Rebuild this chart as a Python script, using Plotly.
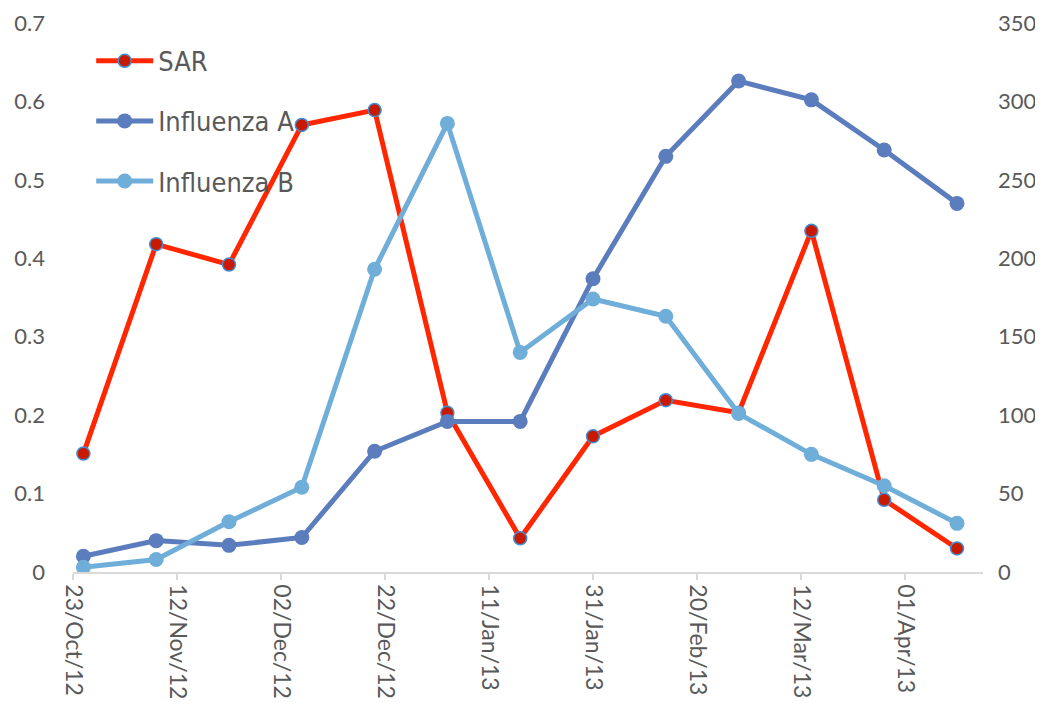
import plotly.graph_objects as go

# sampling dates (fortnightly)
dates = ["2012-10-25", "2012-11-08", "2012-11-22", "2012-12-06", "2012-12-20",
         "2013-01-03", "2013-01-17", "2013-01-31", "2013-02-14", "2013-02-28",
         "2013-03-14", "2013-03-28", "2013-04-11"]

sar = [0.151, 0.418, 0.392, 0.570, 0.589, 0.203, 0.043, 0.173, 0.219, 0.203,
       0.435, 0.092, 0.030]
flu_a = [10, 20, 17, 22, 77, 96, 96, 187, 265, 313, 301, 269, 235]
flu_b = [3, 8, 32, 54, 193, 286, 140, 174, 163, 101, 75, 55, 31]

X_FONT = dict(family="Lato, Liberation Sans, sans-serif", size=23, color="#595959")
Y_FONT = dict(family="Lato, Liberation Sans, sans-serif", size=22, color="#595959")
LEGEND_FONT = dict(family="DejaVu Sans Condensed, DejaVu Sans, sans-serif", size=27, color="#595959")

fig = go.Figure()
fig.add_trace(go.Scatter(
    x=dates, y=sar, name="SAR", mode="lines+markers", legendgroup="sar",
    line=dict(color="#FF2600", width=5),
    marker=dict(size=13, color="#C81A00", line=dict(color="#3D8FDB", width=1.5)),
))
fig.add_trace(go.Scatter(
    x=dates, y=flu_a, name="Influenza A", mode="lines+markers", legendgroup="a",
    yaxis="y2", line=dict(color="#5B7DBD", width=5),
    marker=dict(size=15, color="#5B7DBD"),
))
fig.add_trace(go.Scatter(
    x=dates, y=flu_b, name="Influenza B", mode="lines+markers", legendgroup="b",
    yaxis="y2", line=dict(color="#70AEDA", width=5),
    marker=dict(size=15, color="#70AEDA"),
))

# page body adds an 8px offset, so the figure is 8px smaller on each axis
fig.update_layout(
    width=1035, height=694,
    margin=dict(l=65, r=60, t=15, b=130),
    paper_bgcolor="white", plot_bgcolor="white",
    showlegend=True,
    legend=dict(x=0.02, y=0.975, xanchor="left", yanchor="top",
                font=LEGEND_FONT, bgcolor="rgba(0,0,0,0)",
                tracegroupgap=22, itemwidth=57),
    xaxis=dict(
        type="date", range=["2012-10-23", "2013-04-16"], automargin=False,
        tick0="2012-10-23", dtick=20 * 86400000, tickformat="%d/%b/%y",
        tickangle=90, tickfont=X_FONT, ticklabeloverflow="allow",
        showgrid=False, zeroline=False,
        showline=True, linecolor="#D9D9D9", linewidth=1.5,
        ticks="outside", ticklen=6, tickcolor="#D9D9D9", tickwidth=1.5,
    ),
    yaxis=dict(
        range=[0, 0.7], dtick=0.1, tickfont=Y_FONT, automargin=False,
        showgrid=False, zeroline=False, showline=False,
        ticklabelstandoff=27, ticklabeloverflow="allow",
    ),
    yaxis2=dict(
        range=[0, 350], dtick=50, tickfont=Y_FONT, automargin=False,
        overlaying="y", side="right",
        showgrid=False, zeroline=False, showline=False,
        ticklabelstandoff=14, ticklabeloverflow="allow",
    ),
)

fig.write_html("out.html")
